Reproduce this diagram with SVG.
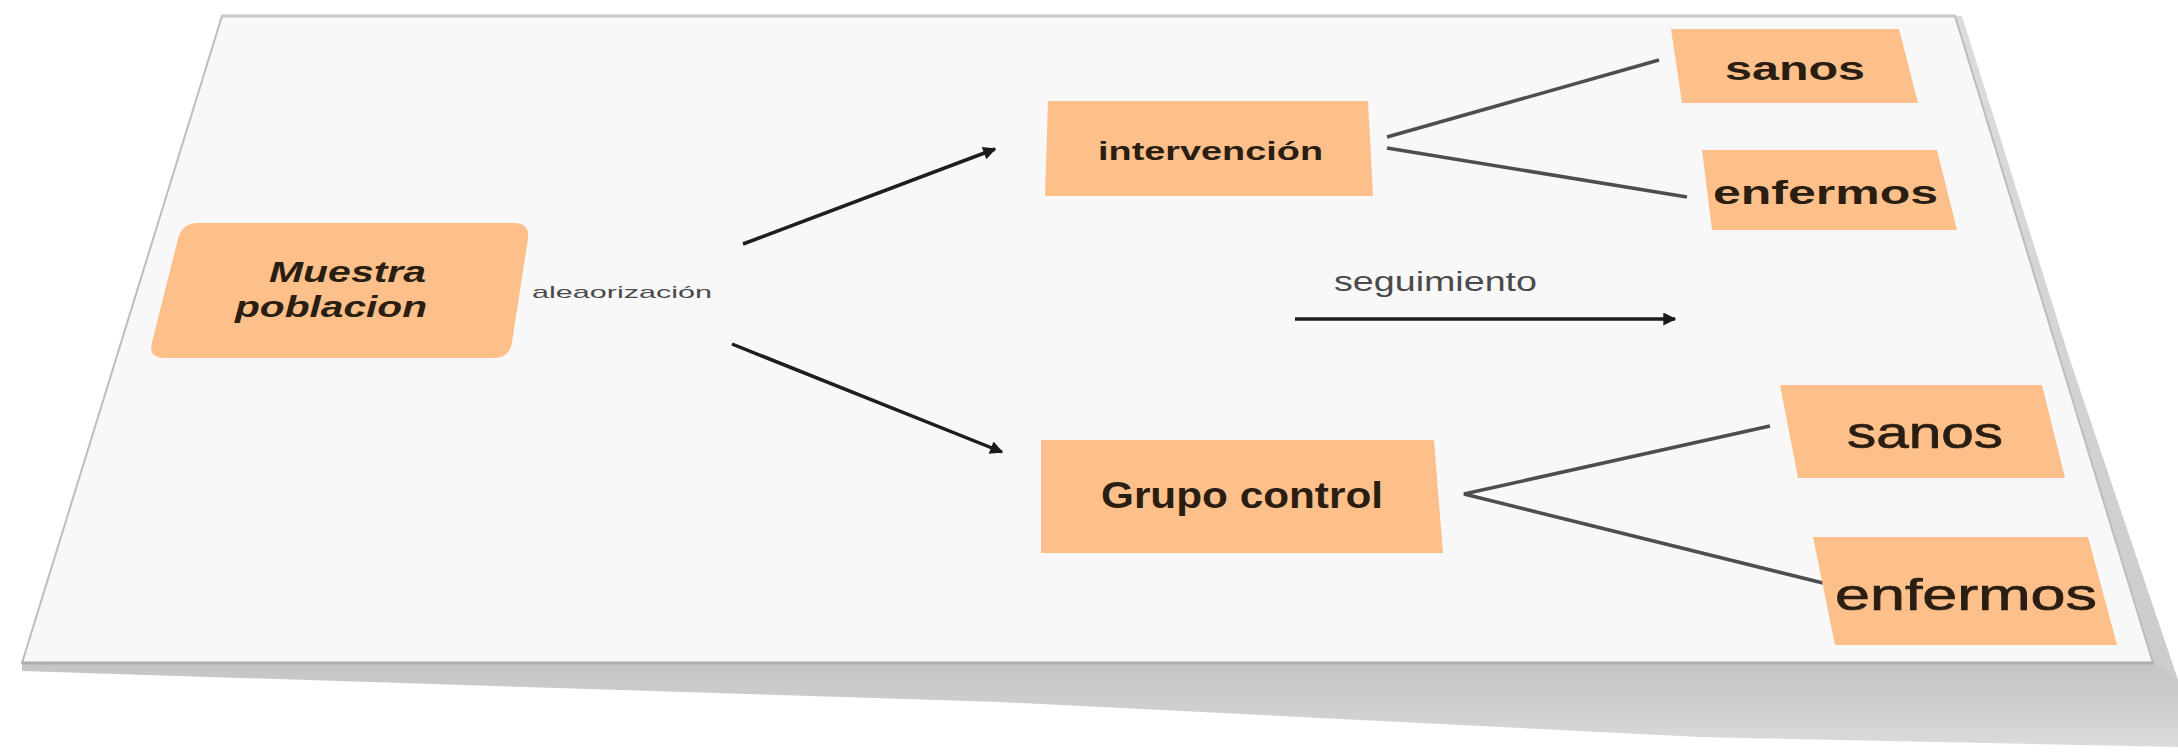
<svg xmlns="http://www.w3.org/2000/svg" width="2178" height="755" viewBox="0 0 2178 755">
  <defs>
    <linearGradient id="slab" gradientUnits="userSpaceOnUse" x1="0" y1="660" x2="0" y2="750">
      <stop offset="0" stop-color="#c4c4c4"/>
      <stop offset="0.6" stop-color="#d0d0d0"/>
      <stop offset="1" stop-color="#dddddd"/>
    </linearGradient>
    <linearGradient id="side" x1="0" y1="0" x2="0" y2="1">
      <stop offset="0" stop-color="#dcdcdc"/>
      <stop offset="1" stop-color="#cbcbcb"/>
    </linearGradient>
    <marker id="arrow" viewBox="0 0 10 10" refX="9" refY="5" markerWidth="16" markerHeight="13" markerUnits="userSpaceOnUse" orient="auto">
      <path d="M0,0 L10,5 L0,10 Z" fill="#1a1a1a"/>
    </marker>
    <style>
      .box { fill: #fdc08a; }
      .lbl { font-family: "Liberation Sans", Arial, sans-serif; fill: #2a1d12; }
      .b { font-weight: bold; }
      .thick { stroke: #2a1d12; stroke-width: 0.7; }
      .note { font-family: "Liberation Sans", Arial, sans-serif; fill: #4a4a4a; }
      .arrow { stroke: #1e1e1e; stroke-width: 3.5; fill: none; marker-end: url(#arrow); }
      .branch { stroke: #4e4e4e; stroke-width: 3.5; fill: none; }
    </style>
  </defs>

  <!-- sheet in perspective: side and under slab, then the sheet itself -->
  <g id="sheet">
    <polygon points="1952,16 1962,16 2070,360 2178,680 2178,700 2153,663" fill="url(#side)"/>
    <polygon points="22,663 2153,663 2178,680 2178,747 1700,737 1000,702 22,671" fill="url(#slab)"/>
    <polygon points="222,16 1955,16 2153,663 22,663" fill="#f8f8f8" stroke="#bdbdbd" stroke-width="2"/>
    <line x1="222" y1="16" x2="1955" y2="16" stroke="#c8c8c8" stroke-width="3"/>
    <line x1="22" y1="663" x2="2153" y2="663" stroke="#adadad" stroke-width="3"/>
  </g>

  <g id="connectors">
    <line class="arrow" x1="743" y1="244" x2="995" y2="149"/>
    <line class="arrow" x1="732" y1="344" x2="1002" y2="452"/>
    <line class="arrow" x1="1295" y1="319" x2="1675" y2="319"/>
    <line class="branch" x1="1387" y1="137" x2="1659" y2="60"/>
    <line class="branch" x1="1387" y1="148" x2="1687" y2="197"/>
    <polyline class="branch" points="1770,426 1464,494 1823,583"/>
  </g>

  <g id="muestra">
    <path class="box" d="M198,223 L514,223 Q530,223 528,239 L512,342 Q510,358 494,358 L164,358 Q148,358 152,342 L178,239 Q182,223 198,223 Z"/>
    <text class="lbl b" x="269" y="282" font-size="30" font-style="italic" textLength="157" lengthAdjust="spacingAndGlyphs">Muestra</text>
    <text class="lbl b" x="235" y="317" font-size="30" font-style="italic" textLength="192" lengthAdjust="spacingAndGlyphs">poblacion</text>
  </g>

  <g id="aleaorizacion">
    <text class="note" x="532" y="298" font-size="17" textLength="180" lengthAdjust="spacingAndGlyphs">aleaorización</text>
  </g>

  <g id="intervencion">
    <polygon class="box" points="1048,101 1368,101 1373,196 1045,196"/>
    <text class="lbl b" x="1098" y="160" font-size="26" textLength="225" lengthAdjust="spacingAndGlyphs">intervención</text>
  </g>

  <g id="sanos-intervencion">
    <polygon class="box" points="1671,29 1899,29 1918,103 1682,103"/>
    <text class="lbl b" x="1725" y="80" font-size="34" textLength="140" lengthAdjust="spacingAndGlyphs">sanos</text>
  </g>

  <g id="enfermos-intervencion">
    <polygon class="box" points="1702,150 1937,150 1957,230 1712,230"/>
    <text class="lbl b" x="1713" y="204" font-size="34" textLength="225" lengthAdjust="spacingAndGlyphs">enfermos</text>
  </g>

  <g id="seguimiento">
    <text class="note" x="1334" y="291" font-size="27" textLength="203" lengthAdjust="spacingAndGlyphs">seguimiento</text>
  </g>

  <g id="grupo-control">
    <polygon class="box" points="1041,440 1434,440 1443,553 1041,553"/>
    <text class="lbl b" x="1101" y="508" font-size="37" textLength="282" lengthAdjust="spacingAndGlyphs">Grupo control</text>
  </g>

  <g id="sanos-control">
    <polygon class="box" points="1780,385 2042,385 2065,478 1798,478"/>
    <text class="lbl thick" x="1847" y="448" font-size="44" textLength="156" lengthAdjust="spacingAndGlyphs">sanos</text>
  </g>

  <g id="enfermos-control">
    <polygon class="box" points="1813,537 2088,537 2117,645 1835,645"/>
    <text class="lbl thick" x="1835" y="610" font-size="44" textLength="262" lengthAdjust="spacingAndGlyphs">enfermos</text>
  </g>
</svg>
